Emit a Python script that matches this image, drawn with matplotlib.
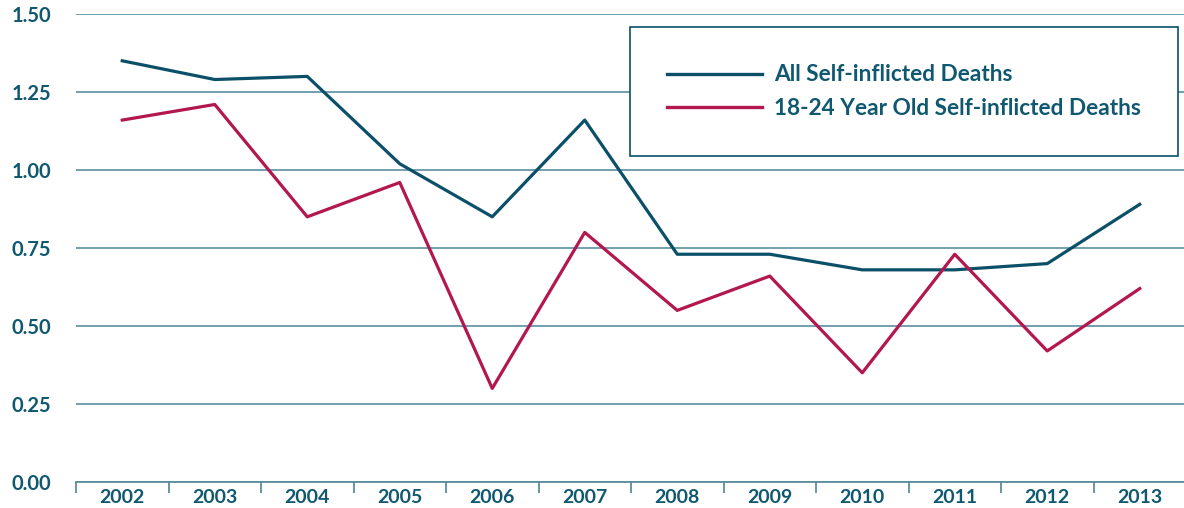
import matplotlib
matplotlib.use("Agg")
import matplotlib.pyplot as plt
import numpy as np
from matplotlib.ticker import FixedLocator, NullFormatter

years = ["2002", "2003", "2004", "2005", "2006", "2007",
         "2008", "2009", "2010", "2011", "2012", "2013"]
all_deaths = [1.35, 1.29, 1.30, 1.02, 0.85, 1.16, 0.73, 0.73, 0.68, 0.68, 0.70, 0.89]
young_deaths = [1.16, 1.21, 0.85, 0.96, 0.30, 0.80, 0.55, 0.66, 0.35, 0.73, 0.42, 0.62]
y_ticks = [0.0, 0.25, 0.5, 0.75, 1.0, 1.25, 1.5]

teal = "#0b5068"
red = "#b3174f"
grid_c = "#5b8f9e"
text_c = "#0f5870"

plt.rcParams["font.family"] = ["Lato", "DejaVu Sans"]

fig = plt.figure(figsize=(11.84, 5.08), dpi=100)
ax = fig.add_axes([76 / 1184, 1 - 482 / 508, 1110 / 1184, 468 / 508])

x = np.arange(len(years))
ax.plot(x, all_deaths, color=teal, lw=2.3, label="All Self-inflicted Deaths", zorder=3)
ax.plot(x, young_deaths, color=red, lw=2.3, label="18-24 Year Old Self-inflicted Deaths", zorder=3)

ax.set_xlim(-0.5, len(years) - 0.5)
ax.set_ylim(0, 1.5)
ax.set_yticks(y_ticks)
ax.set_yticklabels(["%.2f" % v for v in y_ticks])
ax.yaxis.grid(True, color=grid_c, lw=1.2)
ax.set_axisbelow(True)

ax.set_xticks(x)
ax.set_xticklabels(years)
ax.xaxis.set_minor_locator(FixedLocator(np.arange(-0.5, len(years), 1)))
ax.xaxis.set_minor_formatter(NullFormatter())
ax.tick_params(axis="x", which="major", length=0, pad=5, labelsize=14, labelcolor=text_c)
ax.tick_params(axis="x", which="minor", length=8, width=1.3, color=grid_c, direction="out")
ax.tick_params(axis="y", length=0, pad=18, labelsize=14.5, labelcolor=text_c)
for lab in ax.get_xticklabels() + ax.get_yticklabels():
    lab.set_fontweight("bold")

for s in ["top", "right", "left"]:
    ax.spines[s].set_visible(False)
ax.spines["bottom"].set_color(grid_c)
ax.spines["bottom"].set_linewidth(1.3)

leg = ax.legend(loc="upper left", bbox_to_anchor=(0.499, 0.972, 0.494, 0.0),
                mode="expand", frameon=True, fancybox=False,
                handlelength=4.2, handletextpad=0.5, labelspacing=0.55,
                borderpad=1.65, borderaxespad=0,
                prop={"size": 16.3, "weight": "bold"})
leg.get_frame().set_edgecolor(teal)
leg.get_frame().set_linewidth(1.2)
leg.get_frame().set_alpha(1)
for t in leg.get_texts():
    t.set_color(text_c)
for ln in leg.get_lines():
    ln.set_linewidth(2.4)

fig.savefig("out.png", dpi=100)
